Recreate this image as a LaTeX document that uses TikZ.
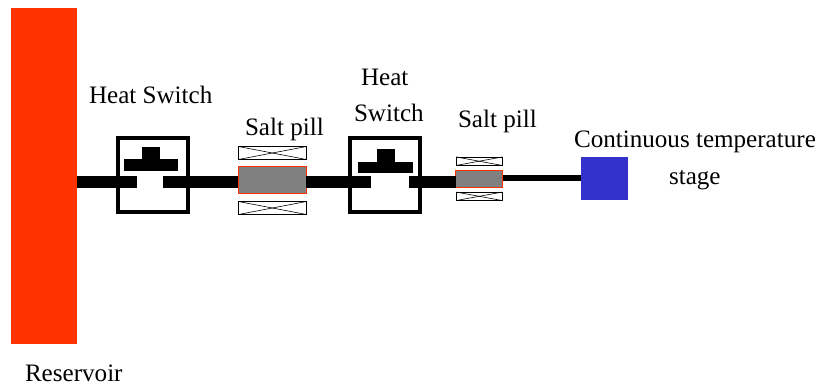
\documentclass[tikz,border=0pt]{standalone}
\usepackage{fontspec}
\setmainfont{Liberation Serif}
\definecolor{resred}{HTML}{FF3300}
\definecolor{stageblue}{HTML}{3333CC}
\definecolor{pillgray}{HTML}{808080}
\tikzset{
  block/.style={rectangle,inner sep=0pt,outer sep=0pt,minimum width=#1},
  blockh/.style={minimum height=#1},
  switchbox/.style={block=70.5pt,blockh=74.5pt,draw=black,line width=4pt},
  tpart/.style={rectangle,inner sep=0pt,outer sep=0pt,fill=black},
  bar/.style={line width=12.5pt,black},
  thinbar/.style={line width=6pt,black},
  pill/.style={rectangle,inner sep=0pt,outer sep=0pt,fill=pillgray,draw=resred,line width=1pt},
  coil/.style={rectangle,inner sep=0pt,outer sep=0pt,draw=black,line width=0.7pt,fill=white},
  crossline/.style={black,line width=0.6pt},
  lbl/.style={anchor=base west,inner sep=0pt,outer sep=0pt,font=\fontsize{25.1pt}{28pt}\selectfont}
}
\newcommand{\coilbox}[5]{% name, cx, cy, w, h
  \node[coil,minimum width=#4pt,minimum height=#5pt] (#1) at (#2,#3) {};
  \draw[crossline] (#1.north west) -- (#1.south east);
  \draw[crossline] (#1.south west) -- (#1.north east);
}
\begin{document}
\begin{tikzpicture}[x=1pt,y=-1pt]
\useasboundingbox (0,0) rectangle (818,386);
% reservoir
\node[block=66pt,blockh=336pt,fill=resred] (res) at (44,176) {};
% switch housings
\node[switchbox] (sw1) at (152.8,175) {};
\node[switchbox] (sw2) at (385,175.2) {};
% switch plungers
\node[tpart,minimum width=54pt,minimum height=11.5pt] (t1h) at (151.2,165) {};
\node[tpart,minimum width=18.6pt,minimum height=13pt] (t1s) at (151,153) {};
\node[tpart,minimum width=55pt,minimum height=10.5pt] (t2h) at (385.5,167.5) {};
\node[tpart,minimum width=18pt,minimum height=13.5pt] (t2s) at (385.6,155.5) {};
% bar ends inside the switches
\coordinate (s1l) at (136.7,182);
\coordinate (s1r) at (163.3,182);
\coordinate (s2l) at (370.7,182);
\coordinate (s2r) at (409,182);
% salt pills
\node[pill,minimum width=68pt,minimum height=26.5pt] (salt1) at (272.4,180.2) {};
\node[pill,minimum width=47pt,minimum height=16.5pt] (salt2) at (479.2,178.8) {};
% stage
\node[block=47pt,blockh=43.5pt,fill=stageblue] (stage) at (604.5,178.3) {};
% connectors
\draw[bar] (res.east |- s1l) -- (s1l);
\draw[bar] (s1r) -- (salt1.west |- s1r);
\draw[bar] (salt1.east |- s2l) -- (s2l);
\draw[bar] (s2r) -- (salt2.west |- s2r);
\draw[thinbar] (salt2.east |- stage.west) -- (stage.west);
% coils
\coilbox{c1t}{272.4}{153}{68}{13}
\coilbox{c1b}{272.4}{208}{68}{13}
\coilbox{c2t}{479.2}{161.2}{46}{8.5}
\coilbox{c2b}{479.2}{196.3}{46}{8.5}
% labels
\node[lbl] (l1) at (89,103) {Heat Switch};
\node[lbl] (l2) at (245,135) {Salt pill};
\node[lbl] (l3) at (361,85) {Heat};
\node[lbl] (l4) at (354,121) {Switch};
\node[lbl] (l5) at (458,127) {Salt pill};
\node[lbl] (l6) at (574,147) {Continuous temperature};
\node[lbl] (l7) at (669,184) {stage};
\node[lbl] (l8) at (25,381) {Reservoir};
\end{tikzpicture}
\end{document}
